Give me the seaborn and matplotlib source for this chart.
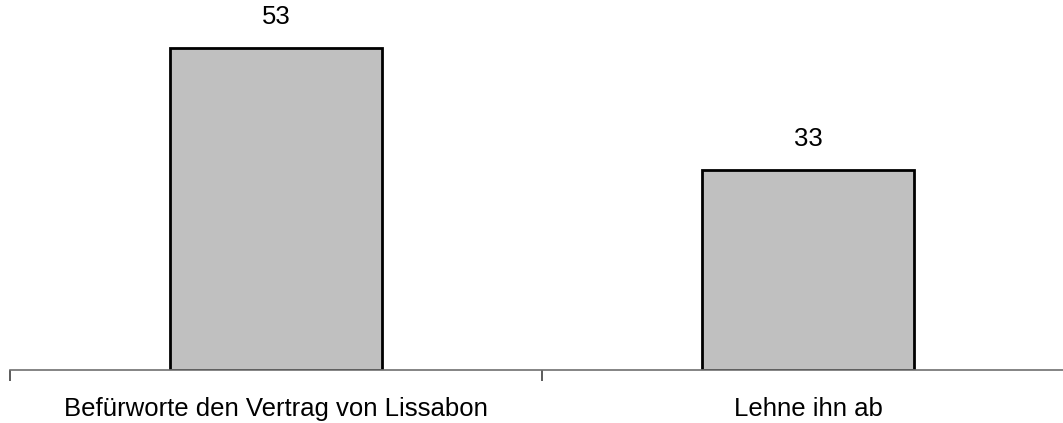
import matplotlib
matplotlib.use("Agg")
import matplotlib.pyplot as plt
import seaborn as sns
import pandas as pd

categories = ["Befürworte den Vertrag von Lissabon", "Lehne ihn ab"]
values = [53, 33]

sns.set_theme(style="white")
plt.rcParams["font.family"] = ["Liberation Sans", "DejaVu Sans"]

df = pd.DataFrame({"Antwort": categories, "Prozent": values})

fig = plt.figure(figsize=(10.63, 4.23), dpi=100)
W, H = 1063, 423
ax = fig.add_axes([10 / W, (H - 370) / H, 1064 / W, 364.5 / H])

sns.barplot(data=df, x="Antwort", y="Prozent", color="#c0c0c0",
            edgecolor="black", linewidth=2, width=0.4, saturation=1, ax=ax)

ax.set_xlim(-0.5, 1.5)
ax.set_ylim(0, 60)

for i, v in enumerate(values):
    ax.annotate(str(v), (i, v), xytext=(0, 17), textcoords="offset points",
                ha="center", va="baseline", fontsize=18.5, color="black")

for s in ["top", "right", "left"]:
    ax.spines[s].set_visible(False)
ax.spines["bottom"].set_color("#707070")
ax.spines["bottom"].set_linewidth(1.2)
ax.set_yticks([])
ax.set_xlabel("")
ax.set_ylabel("")

ax.set_xticks([0, 1])
ax.set_xticklabels(categories, fontsize=18.5, color="black")
ax.tick_params(axis="x", which="major", length=0, pad=19.5)
ax.set_xticks([-0.5, 0.5], minor=True)
ax.tick_params(axis="x", which="minor", length=8, width=1.2, color="#404040",
               bottom=True, direction="out")

fig.savefig("out.png", dpi=100)
